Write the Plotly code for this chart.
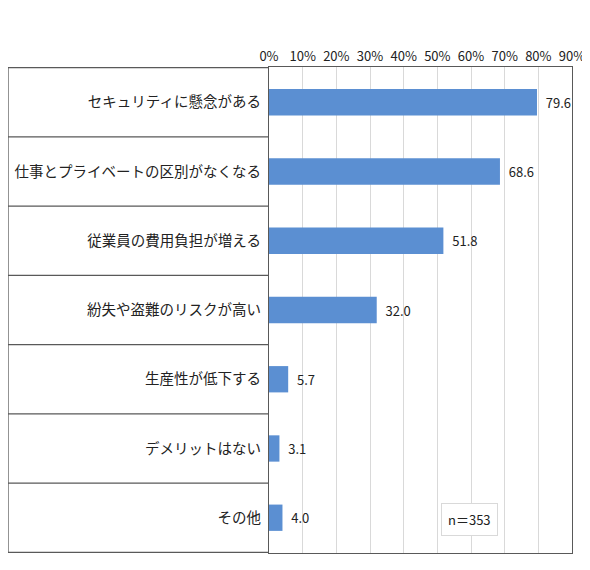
import plotly.graph_objects as go

# デメリット (n=353)
categories = ["セキュリティに懸念がある", "仕事とプライベートの区別がなくなる", "従業員の費用負担が増える",
              "紛失や盗難のリスクが高い", "生産性が低下する", "デメリットはない", "その他"]
values = [79.6, 68.6, 51.8, 32.0, 5.7, 3.1, 4.0]
tick_vals = [0, 10, 20, 30, 40, 50, 60, 70, 80, 90]
tick_text = [f"{v}%" for v in tick_vals]

font_jp = "Noto Sans CJK JP"
line_col = "#595959"

fig = go.Figure(go.Bar(
    x=values, y=categories, orientation="h",
    marker=dict(color="#5B8FD2", line=dict(width=0)),
    width=0.38,
    text=values, texttemplate="  %{x:.1f}", textposition="outside",
    textfont=dict(size=13, color="#222222", family=font_jp),
    cliponaxis=False,
))

# left label area: separator lines between categories
left = -261 / 303
for i in range(len(categories) + 1):
    fig.add_shape(type="line", xref="paper", yref="y", x0=left, x1=0,
                  y0=i - 0.5, y1=i - 0.5, line=dict(color=line_col, width=1.3))
fig.add_shape(type="line", xref="paper", yref="paper", x0=left, x1=left,
              y0=0, y1=1, line=dict(color=line_col, width=1.3))

fig.add_annotation(text="n＝353", xref="paper", yref="paper", x=0.663, y=0.068,
                   xanchor="center", yanchor="middle",
                   showarrow=False, font=dict(size=13, color="#222222", family=font_jp),
                   bordercolor="#d9d9d9", borderwidth=1, borderpad=6, bgcolor="white")

# page body adds an 8px offset, so the figure is sized to fit the 590x570 window
fig.update_layout(
    width=582, height=562,
    margin=dict(l=261, r=18, t=59, b=17),
    plot_bgcolor="white", paper_bgcolor="white",
    font=dict(family=font_jp, size=14, color="#222222"),
    showlegend=False,
    xaxis=dict(side="top", range=[0, 90], tickvals=tick_vals, ticktext=tick_text,
               showgrid=True, gridcolor="#d9d9d9", gridwidth=1, zeroline=False,
               showline=True, linecolor=line_col, linewidth=1.3, mirror=True,
               ticks="", tickfont=dict(size=13, color="#222222"),
               automargin=False, fixedrange=True),
    yaxis=dict(autorange="reversed", showgrid=False, zeroline=False,
               showline=True, linecolor=line_col, linewidth=1.3, mirror=True,
               ticks="", ticklabelstandoff=4, automargin=False,
               tickfont=dict(size=14.5, color="#222222")),
)

fig.write_html("out.html")
